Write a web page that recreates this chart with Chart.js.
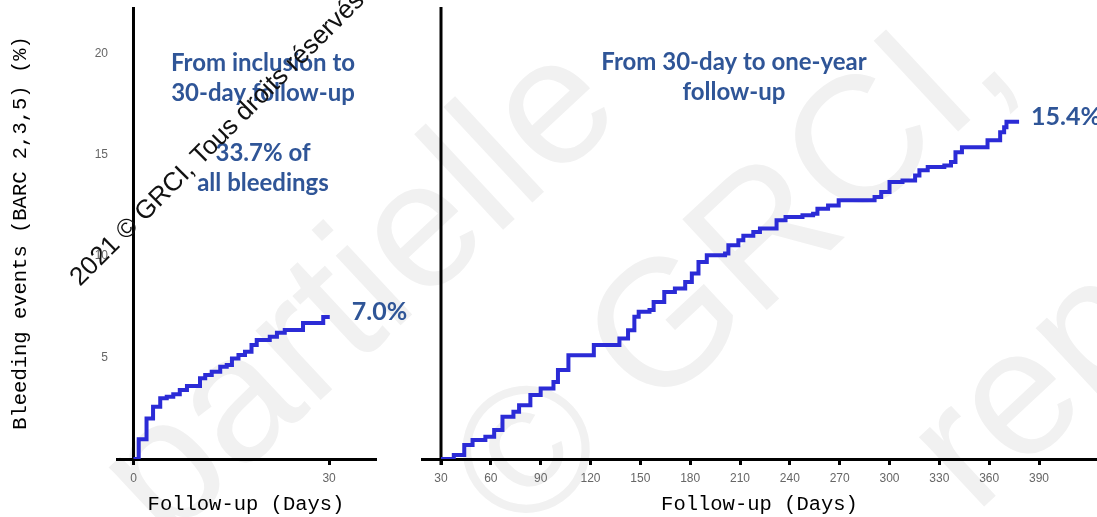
<!DOCTYPE html>
<html>
<head>
<meta charset="utf-8">
<script src="https://cdn.jsdelivr.net/npm/chart.js@4/dist/chart.umd.min.js"></script>
<style>
  html, body { margin: 0; padding: 0; background: #fff; }
  #wrap { position: relative; width: 1097px; height: 517px; overflow: hidden; background: #fff; }
  #wrap canvas { position: absolute; top: 0; }
  #cLeft { left: 0; }
  #cRight { left: 420px; }
</style>
</head>
<body>
<div id="wrap">
  <canvas id="cLeft" width="420" height="517"></canvas>
  <canvas id="cRight" width="677" height="517"></canvas>
</div>
<script>
// Cumulative bleeding events (BARC 2,3,5), % — inclusion to day 30
const leftDays = [0, 0.8, 2.0, 3.0, 4.1, 5.1, 6.1, 7.1, 8.2, 10.2, 11.0, 12.0, 13.3, 14.3, 15.1, 16.1, 17.1, 18.1, 18.9, 20.9, 22.0, 23.2, 26.0, 29.1, 30.1];
const leftPct  = [0, 0.97, 2.0, 2.58, 2.99, 3.07, 3.19, 3.40, 3.60, 3.98, 4.14, 4.30, 4.55, 4.63, 4.96, 5.13, 5.29, 5.62, 5.86, 6.03, 6.22, 6.36, 6.70, 7.0, 7.0];

// Cumulative bleeding events, % — day 30 to one year
const rightDays = [30, 37.7, 44, 49, 56.7, 62, 67, 73.6, 77, 83.8, 90, 97.7, 100.4, 106.7, 122, 137.4, 142.6, 146.4, 149, 155.5, 158, 164.4, 170.8, 177, 181, 185, 190, 201, 203, 209, 212, 218, 222, 232, 237.4, 247.6, 254, 256.6, 263, 269.4, 291, 295, 300, 307.8, 315.4, 318, 323, 333, 337, 339.7, 343.6, 359, 366.6, 369, 370.4, 378];
const rightPct  = [0, 0.18, 0.64, 0.87, 1.02, 1.32, 1.93, 2.16, 2.46, 2.92, 3.22, 3.52, 4.06, 4.74, 5.20, 5.50, 5.88, 6.49, 6.72, 6.80, 7.17, 7.63, 7.78, 8.08, 8.47, 9.00, 9.30, 9.38, 9.76, 9.99, 10.20, 10.36, 10.52, 10.90, 11.05, 11.13, 11.20, 11.43, 11.58, 11.81, 11.96, 12.19, 12.65, 12.72, 12.95, 13.18, 13.33, 13.40, 13.56, 14.01, 14.24, 14.55, 14.92, 15.15, 15.4, 15.4];

// Axis ticks
const leftXTicks  = [0, 30];
const leftYTicks  = [5, 10, 15, 20];
const rightXTicks = [30, 60, 90, 120, 150, 180, 210, 240, 270, 300, 330, 360, 390];

// Panel captions
const leftNotes  = ['From inclusion to', '30-day follow-up', '', '33.7% of', 'all bleedings'];
const rightNotes = ['From 30-day to one-year', 'follow-up'];

const X_TITLE = 'Follow-up (Days)';
const Y_TITLE = 'Bleeding events (BARC 2,3,5) (%)';

const CURVE = '#2b2bd6';
const NOTE = '#2f5597';
const MONO = 'Liberation Mono';
const TICK_FONT = { family: 'Liberation Sans', size: 12 };

// Copyright marks laid over the whole figure (page coordinates)
function drawMarks(ctx, offsetX, layer) {
  ctx.save();
  ctx.translate(-offsetX, 0);
  if (layer === 'back') {
    ctx.fillStyle = '#f1f1f1';
    ctx.font = '180px "Liberation Sans"';
    ctx.textBaseline = 'alphabetic';
    const ang = -43 * Math.PI / 180;
    const lines = [
      { t: 'partielle', x: 165, y: 545 },
      { t: '\u00a9 GRCI,', x: 520, y: 540 },
      { t: 'reproduction', x: 975, y: 515 }
    ];
    lines.forEach(l => {
      ctx.save();
      ctx.translate(l.x, l.y);
      ctx.rotate(ang);
      ctx.fillText(l.t, 0, 0);
      ctx.restore();
    });
  } else {
    ctx.fillStyle = '#111';
    ctx.font = '26px "Liberation Sans"';
    ctx.textBaseline = 'alphabetic';
    ctx.translate(80, 287);
    ctx.rotate(-45 * Math.PI / 180);
    ctx.fillText('2021 \u00a9 GRCI, Tous droits r\u00e9serv\u00e9s', 0, 0);
  }
  ctx.restore();
}

function makePanel(id, opts) {
  const points = opts.days.map((d, i) => ({ x: d, y: opts.pct[i] }));
  const panelPlugin = {
    id: 'panelDeco_' + id,
    beforeDraw(chart) {
      drawMarks(chart.ctx, opts.offsetX, 'back');
    },
    beforeDatasetsDraw(chart) {
      // vertical axis line at the start day
      const { ctx, chartArea, scales } = chart;
      const x = scales.x.getPixelForValue(opts.axisAt);
      ctx.save();
      ctx.strokeStyle = '#000';
      ctx.lineWidth = 3;
      ctx.beginPath();
      ctx.moveTo(x, chartArea.top);
      ctx.lineTo(x, chartArea.bottom + 6);
      ctx.stroke();
      ctx.restore();
    },
    afterDatasetsDraw(chart) {
      const { ctx, scales } = chart;
      ctx.save();
      ctx.fillStyle = NOTE;
      ctx.font = 'bold 24px Lato';
      ctx.textAlign = 'center';
      ctx.textBaseline = 'middle';
      opts.notes.forEach((t, i) => {
        if (t) ctx.fillText(t, opts.noteX, opts.noteY + i * 30);
      });
      const n = opts.days.length - 1;
      const lx = scales.x.getPixelForValue(opts.days[n]) + opts.endGap;
      const ly = scales.y.getPixelForValue(opts.pct[n]) - 5;
      ctx.textAlign = 'left';
      ctx.font = 'bold 25px Lato';
      ctx.fillText(opts.pct[n].toFixed(1) + '%', lx, ly);
      ctx.restore();
    },
    afterDraw(chart) {
      drawMarks(chart.ctx, opts.offsetX, 'front');
    }
  };

  return new Chart(document.getElementById(id), {
    type: 'line',
    data: {
      datasets: [{
        data: points,
        borderColor: CURVE,
        borderWidth: 4,
        stepped: true,
        pointRadius: 0,
        fill: false,
        borderCapStyle: 'butt',
        borderJoinStyle: 'miter'
      }]
    },
    options: {
      responsive: false,
      animation: false,
      devicePixelRatio: 1,
      events: [],
      layout: { padding: { top: 7, right: opts.padRight, left: 0, bottom: 0 } },
      plugins: { legend: { display: false }, tooltip: { enabled: false }, title: { display: false } },
      scales: {
        x: {
          type: 'linear',
          min: opts.xMin,
          max: opts.xMax,
          afterBuildTicks: s => { s.ticks = opts.xTicks.map(v => ({ value: v })); },
          afterFit: s => { s.height = 58; s.paddingLeft = 0; s.paddingRight = 0; },
          grid: { display: true, drawOnChartArea: false, drawTicks: true, tickLength: 6, lineWidth: 3, color: '#000' },
          border: { display: true, color: '#000', width: 3 },
          ticks: { font: TICK_FONT, color: '#666', padding: 6, maxRotation: 0, autoSkip: false },
          title: { display: true, text: X_TITLE, font: { family: MONO, size: 20.5 }, color: '#000', padding: { top: 0, bottom: 0 } }
        },
        y: {
          type: 'linear',
          min: 0,
          max: opts.yMax,
          afterBuildTicks: s => { s.ticks = opts.yTicks.map(v => ({ value: v })); },
          afterFit: s => { s.width = opts.yWidth; s.paddingTop = 0; s.paddingBottom = 0; },
          grid: { display: false, drawTicks: false },
          border: { display: false },
          ticks: { display: opts.yTicks.length > 0, font: TICK_FONT, color: '#666', padding: 9 },
          title: { display: opts.yTitle, text: Y_TITLE, font: { family: MONO, size: 20.5 }, color: '#000', padding: { top: 8, bottom: 0 } }
        }
      }
    },
    plugins: [panelPlugin]
  });
}

makePanel('cLeft', {
  days: leftDays, pct: leftPct, xTicks: leftXTicks, yTicks: leftYTicks,
  xMin: -2.53, xMax: 37.04, yMax: 22.28, yWidth: 117, padRight: 45,
  axisAt: 0, yTitle: true, offsetX: 0,
  notes: leftNotes, noteX: 263, noteY: 63, endGap: 22
});

makePanel('cRight', {
  days: rightDays, pct: rightPct, xTicks: rightXTicks, yTicks: [],
  xMin: 18.56, xMax: 424.9, yMax: 20.64, yWidth: 2, padRight: 0,
  axisAt: 30, yTitle: false, offsetX: 420,
  notes: rightNotes, noteX: 314, noteY: 62, endGap: 12
});
</script>
</body>
</html>
